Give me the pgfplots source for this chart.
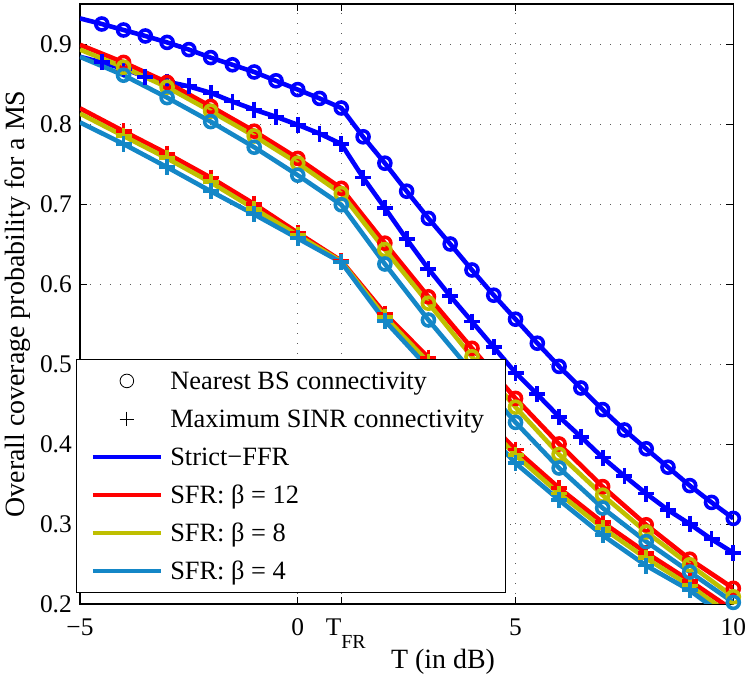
\documentclass[border=0pt]{standalone}
\usepackage{fontspec}
\setmainfont{Liberation Serif}
\usepackage{pgfplots}
\usepackage{pgfplotstable}
\pgfplotsset{compat=1.18}
\definecolor{mblue}{rgb}{0,0,1}
\definecolor{mred}{rgb}{1,0,0}
\definecolor{myel}{rgb}{0.75,0.75,0}
\definecolor{mcyan}{rgb}{0.08,0.53,0.78}

\pgfplotstableread{
x bc bp
-5 0.932 0.884
-4.5 0.925 0.877
-4 0.9175 0.869
-3.5 0.910 0.859
-3 0.902 0.853
-2.5 0.893 0.847
-2 0.883 0.839
-1.5 0.874 0.828
-1 0.865 0.818
-0.5 0.854 0.809
0 0.843 0.799
0.5 0.832 0.788
1 0.820 0.775
1.5 0.784 0.733
2 0.751 0.695
2.5 0.716 0.656
3 0.682 0.619
3.5 0.650 0.585
4 0.6175 0.553
4.5 0.586 0.521
5 0.556 0.489
5.5 0.526 0.462
6 0.497 0.434
6.5 0.470 0.409
7 0.443 0.383
7.5 0.4175 0.360
8 0.394 0.338
8.5 0.371 0.3175
9 0.348 0.300
9.5 0.327 0.281
10 0.307 0.264
}\strict

\pgfplotstableread{
x rc yc cc rp yp cp
-5 0.899 0.893 0.884 0.8196 0.813 0.802
-4 0.877 0.871 0.861 0.791 0.785 0.775
-3 0.852 0.846 0.833 0.763 0.757 0.746
-2 0.822 0.816 0.803 0.733 0.727 0.716
-1 0.791 0.785 0.771 0.700 0.694 0.687
0 0.757 0.751 0.736 0.664 0.661 0.657
1 0.7196 0.713 0.699 0.629 0.628 0.627
2 0.651 0.643 0.625 0.563 0.559 0.554
3 0.584 0.576 0.555 0.508 0.502 0.495
4 0.5196 0.509 0.490 0.449 0.443 0.435
5 0.457 0.446 0.427 0.393 0.386 0.376
6 0.400 0.387 0.370 0.345 0.338 0.330
7 0.3467 0.336 0.320 0.302 0.295 0.286
8 0.299 0.290 0.278 0.264 0.257 0.248
9 0.256 0.249 0.240 0.229 0.223 0.217
10 0.2196 0.209 0.202 0.192 0.184 0.177
}\sfr

\pgfplotsset{
  cplot/.style={line width=4.6bp, mark=o, mark size=6bp, mark options={solid, line width=3.6bp}, mark phase=2, mark repeat=1, forget plot},
  pplot/.style={line width=4.6bp, mark=+, mark size=8bp, mark options={solid, line width=3.8bp}, mark phase=2, mark repeat=1, forget plot},
  lplot/.style={line width=4.6bp, no marks, forget plot},
  mplot/.style={only marks, mark=+, mark size=8bp, mark options={solid, line width=3.8bp}, restrict x to domain=-4.5:9.5, forget plot},
  lineimg/.style={legend image code/.code={\draw[##1] (0bp,0bp) -- (68bp,0bp);}},
  markimg/.style={legend image code/.code={\draw[##1] plot coordinates {(34bp,0bp)};}},
}

\begin{document}
\begin{tikzpicture}
\path[use as bounding box] (-80bp,-75bp) rectangle (668bp,604bp);
\begin{axis}[
  scale only axis, width=653.3bp, height=600bp,
  at={(0,0)}, anchor=south west,
  xmin=-5, xmax=10, ymin=0.2, ymax=0.95,
  xtick={-5,0,1,5,10},
  xticklabels={−5,0,{\hspace{9bp}T\raisebox{-13bp}{\fontsize{20}{20}\selectfont FR}},5,10},
  ytick={0.2,0.3,0.4,0.5,0.6,0.7,0.8,0.9},
  yticklabels={0.2,0.3,0.4,0.5,0.6,0.7,0.8,0.9},
  tick label style={font=\fontsize{25.5}{25.5}\selectfont},
  xticklabel style={anchor=base, yshift=-31bp},
  yticklabel style={anchor=east, inner xsep=0pt, xshift=-8bp},
  xlabel={T (in dB)},
  ylabel={Overall coverage probability for a MS},
  label style={font=\fontsize{28}{28}\selectfont},
  xlabel style={at={(axis description cs:0.5556,-0.1067)}, anchor=base},
  ylabel style={at={(axis description cs:-0.0857,0.5)}, anchor=base},
  grid=major,
  major grid style={black!65, line width=0.9bp, dash pattern=on 1.1bp off 8.9bp},
  tick align=inside, major tick length=7bp,
  every tick/.style={black, line width=0.9bp},
  axis line style={line width=1.1bp},
  legend style={
    at={(axis description cs:-0.0061,0.0183)}, anchor=south west,
    draw=black, line width=0.9bp, fill=white,
    font=\fontsize{26.5}{26.5}\selectfont,
    inner xsep=14bp, inner ysep=2.65bp, row sep=0bp,
    nodes={inner xsep=7bp, inner ysep=2bp, text height=26bp, text depth=8bp},
  },
  legend cell align=left,
]
\addplot[mblue, cplot] table[x=x, y=bc] {\strict};
\addplot[mblue, pplot] table[x=x, y=bp] {\strict};

\addplot[mred, cplot] table[x=x, y=rc] {\sfr};
\addplot[mred, lplot] table[x=x, y=rp] {\sfr};
\addplot[mred, mplot] table[x=x, y=rp] {\sfr};

\addplot[myel, cplot] table[x=x, y=yc] {\sfr};
\addplot[myel, lplot] table[x=x, y=yp] {\sfr};
\addplot[myel, mplot] table[x=x, y=yp] {\sfr};

\addplot[mcyan, cplot] table[x=x, y=cc] {\sfr};
\addplot[mcyan, lplot] table[x=x, y=cp] {\sfr};
\addplot[mcyan, mplot] table[x=x, y=cp] {\sfr};

\addlegendimage{black, mark=o, mark size=6.8bp, line width=0.8bp, markimg}
\addlegendentry{Nearest BS connectivity}
\addlegendimage{black, mark=+, mark size=7.2bp, line width=0.8bp, markimg}
\addlegendentry{Maximum SINR connectivity}
\addlegendimage{mblue, line width=4.8bp, lineimg}
\addlegendentry{Strict−FFR}
\addlegendimage{mred, line width=4.8bp, lineimg}
\addlegendentry{SFR: β = 12}
\addlegendimage{myel, line width=4.8bp, lineimg}
\addlegendentry{SFR: β = 8}
\addlegendimage{mcyan, line width=4.8bp, lineimg}
\addlegendentry{SFR: β = 4}
\end{axis}
\end{tikzpicture}
\end{document}
